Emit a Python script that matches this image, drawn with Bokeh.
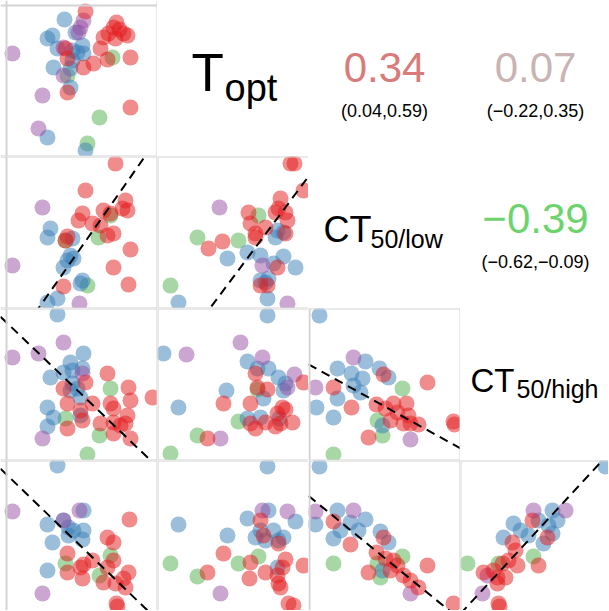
from bokeh.plotting import figure
from bokeh.layouts import gridplot
from bokeh.models import Range1d, Span
from bokeh.core.properties import value
from bokeh.embed import file_html
from bokeh.resources import INLINE

s00_red = [(79,6),(110,17),(107,22),(113,24),(102,28),(117,28),(121,30),(109,33),(97,32),(94,43),(59,43),(61,53),(77,62),(87,58),(101,54),(124,52),(61,87),(124,102)]
s00_blue = [(58,14),(41,33),(46,30),(51,43),(76,40),(77,48),(71,47),(66,45),(66,55),(47,62),(64,63),(64,82),(41,132),(79,145),(69,27)]
s00_purple = [(77,15),(74,22),(72,27),(57,42),(57,70),(6,48),(36,90),(32,123)]
s00_green = [(106,52),(61,70),(93,112),(81,138)]

s10_red = [(109,7),(79,34),(76,57),(72,64),(86,67),(97,54),(104,57),(119,44),(116,52),(121,54),(94,69),(101,79),(107,77),(61,80),(59,84),(124,93),(107,111),(57,130),(122,128)]
s10_blue = [(44,72),(41,81),(66,82),(64,99),(67,102),(61,104),(57,111),(76,124),(74,127),(41,146),(51,142)]
s10_purple = [(36,51),(6,109),(73,147)]
s10_green = [(104,59),(92,81),(59,84),(81,129)]

s11_red = [(133,7),(137,7),(146,34),(123,42),(121,52),(118,56),(128,56),(130,64),(91,56),(93,67),(98,77),(108,71),(98,81),(128,77),(51,92),(65,85),(120,111),(103,129),(110,129)]
s11_blue = [(120,74),(126,76),(118,81),(70,102),(90,96),(103,99),(126,100),(138,111),(116,107),(103,124),(111,122),(108,126),(21,146),(110,142)]
s11_purple = [(62,51),(105,109),(130,147)]
s11_green = [(101,59),(40,81),(81,84),(13,129)]

s20_red = [(79,74),(57,80),(101,65),(122,79),(124,92),(146,89),(86,95),(61,95),(74,102),(104,95),(107,100),(121,107),(94,115),(107,114),(114,117),(119,115),(61,120),(76,112),(107,125),(124,130)]
s20_blue = [(51,6),(77,45),(64,54),(76,60),(44,69),(57,64),(66,62),(66,75),(71,80),(64,82),(74,89),(41,99),(47,109),(41,118),(74,107)]
s20_purple = [(57,34),(6,49),(32,45),(76,65),(36,130)]
s20_green = [(104,80),(59,110),(93,127),(81,146)]

s21_red = [(98,65),(146,74),(100,79),(110,81),(66,95),(93,95),(125,99),(128,101),(120,105),(135,114),(123,115),(118,118),(93,115),(98,120),(108,114),(50,130)]
s21_blue = [(110,7),(6,45),(90,53),(111,60),(100,60),(121,69),(128,75),(106,90),(69,82),(21,99),(126,82),(90,110),(103,109),(122,110)]
s21_purple = [(83,34),(29,46),(105,49),(137,66),(130,79),(63,130)]
s21_green = [(100,81),(81,113),(40,127),(13,145)]

s22_red = [(74,66),(24,79),(118,74),(42,99),(67,96),(84,95),(97,95),(76,100),(88,104),(99,107),(81,112),(94,115),(101,115),(109,116),(59,129),(144,113),(145,116)]
s22_blue = [(10,7),(56,53),(28,60),(42,65),(70,60),(79,69),(53,70),(44,77),(51,84),(28,90),(7,99),(24,109),(73,117)]
s22_purple = [(44,49),(6,79),(101,131)]
s22_green = [(93,80),(68,112),(73,127),(24,146)]

s30_red = [(123,59),(101,77),(107,82),(61,93),(86,100),(74,107),(77,104),(61,112),(107,100),(101,107),(97,122),(76,118),(122,112),(117,118),(119,127),(109,123),(110,143),(111,146)]
s30_blue = [(51,5),(77,50),(41,64),(57,60),(62,67),(67,70),(77,70),(62,75),(76,79),(46,82),(41,110)]
s30_purple = [(6,51),(73,50),(57,60),(36,133)]
s30_green = [(59,103),(104,95),(93,115)]

s31_red = [(103,60),(106,75),(121,83),(66,93),(93,102),(108,112),(128,99),(125,107),(146,105),(120,115),(121,123),(123,127),(92,118),(50,112),(131,143),(136,145)]
s31_blue = [(110,6),(111,50),(138,61),(90,58),(103,70),(98,77),(108,80),(116,70),(121,80),(126,77),(21,64),(70,75),(120,107)]
s31_purple = [(105,50),(130,51),(63,133)]
s31_green = [(101,96),(81,103),(13,103),(40,116)]

s32_red = [(24,61),(74,77),(41,84),(118,105),(67,92),(76,98),(84,100),(88,105),(59,112),(81,110),(94,115),(101,120),(109,127),(144,143)]
s32_blue = [(10,6),(6,64),(28,50),(56,59),(41,62),(49,70),(31,70),(24,78),(71,71),(79,82),(73,110)]
s32_purple = [(6,51),(44,50),(101,133)]
s32_green = [(93,96),(24,103),(68,103),(71,117)]

s33_red = [(72,60),(87,77),(52,82),(55,90),(78,105),(48,100),(57,105),(42,103),(23,112),(33,110),(37,117),(45,117),(37,123),(38,143),(39,146)]
s33_blue = [(145,6),(92,50),(53,63),(78,60),(97,60),(88,65),(43,77),(60,70),(68,75),(92,73),(83,83)]
s33_purple = [(73,50),(105,50),(22,133),(27,115)]
s33_green = [(73,96),(7,103),(38,103)]

# dashed fit lines: panel, intercept, slope (panel units, y measured downward)
fit_panels = [(1,0),(1,1),(2,0),(2,2),(3,0),(3,2),(3,3)]
fit_intercept = [197.5, 221.9, 14.0, 56.4, 14.0, 36.2, 153.2]
fit_slope = [-1.427, -1.337, 0.957, 0.553, 0.964, 0.815, -1.080]

# correlation panels
cor_panels = [(0,2),(0,3),(1,3)]
cor_value = [0.34, 0.07, -0.39]
cor_low = [0.04, -0.22, -0.62]
cor_high = [0.59, 0.35, -0.09]
cor_color = ["#D87B7B", "#C9B3B3", "#6DD46D"]

# variable labels on the diagonal
label_panels = [(0,1),(1,2),(2,3)]
label_main = ["T", "CT", "CT"]
label_sub = ["opt", "50/low", "50/high"]

group_colors = {"green": "#4DAF4A", "blue": "#377EB8", "purple": "#984EA3", "red": "#E41A1C"}

scatter_data = {}
for r in range(4):
    for c in range(4):
        key = f"s{r}{c}"
        if key + "_red" in globals():
            scatter_data[(r, c)] = {g: globals()[f"{key}_{g}"] for g in ["green", "blue", "purple", "red"]}

# layout: figure sizes in px, and where panel unit 0 sits inside each figure
COL_W = [157, 151, 152, 148]
ROW_H = [156, 152, 152, 150]
COL_X0 = [-6, 0, -1, 0]
ROW_Y0 = [-5, 0, 0, 0]
PANEL_W = [151, 152, 151]
PANEL_H = [151, 152, 152]
FONT = value("Liberation Sans")
BORDER = "#D3D3D3"
BASELINE_SHIFT = 0.35  # em; the svg text is anchored at its middle


def fmt(v):
    return f"{v:.2f}".replace("-", "\u2212")


def base_fig(r, c):
    W, H = COL_W[c], ROW_H[r]
    x0, y0 = COL_X0[c], ROW_Y0[r]
    p = figure(width=W, height=H, x_range=Range1d(x0, x0 + W), y_range=Range1d(y0 + H, y0),
               x_axis_type=None, y_axis_type=None, toolbar_location=None,
               output_backend="svg", min_border=0, outline_line_color=None,
               background_fill_color="white", border_fill_color="white")
    return p


def add_text(p, x, baseline, txt, size, color="black", align="left"):
    y = baseline - BASELINE_SHIFT * size
    p.text([x], [y], text=[txt], text_font=FONT, text_font_size=f"{size}px", text_color=color,
           text_align=align, text_baseline="alphabetic")


rows = []
for r in range(4):
    row = []
    for c in range(4):
        p = base_fig(r, c)
        if (r, c) in scatter_data:
            for g, pts in scatter_data[(r, c)].items():
                xs = [pt[0] for pt in pts]
                ys = [pt[1] for pt in pts]
                p.scatter(xs, ys, size=16, fill_color=group_colors[g], fill_alpha=0.5, line_color=None)
            if (r, c) in fit_panels:
                i = fit_panels.index((r, c))
                a, b = fit_intercept[i], fit_slope[i]
                x_start = COL_X0[c]
                x_end = COL_X0[c] + COL_W[c]
                p.line([x_start, x_end], [a + b * x_start, a + b * x_end], line_color="black",
                       line_width=2, line_dash="9 6")
            p.add_layout(Span(location=0, dimension="height", line_color=BORDER, line_width=2))
            p.add_layout(Span(location=0, dimension="width", line_color=BORDER, line_width=2))
            if c < 3:
                p.add_layout(Span(location=PANEL_W[c], dimension="height", line_color=BORDER, line_width=2))
            if r < 3:
                p.add_layout(Span(location=PANEL_H[r], dimension="width", line_color=BORDER, line_width=2))
        elif (r, c) in cor_panels:
            i = cor_panels.index((r, c))
            add_text(p, 75, 77, fmt(cor_value[i]), 42, cor_color[i], "center")
            add_text(p, 75, 112, f"({fmt(cor_low[i])},{fmt(cor_high[i])})", 18, "black", "center")
        elif (r, c) in label_panels:
            i = label_panels.index((r, c))
            if i == 0:
                add_text(p, 34, 86, label_main[i], 53)
                add_text(p, 67, 96, label_sub[i], 38)
            elif i == 1:
                add_text(p, 14, 86, label_main[i], 36)
                add_text(p, 61, 91, label_sub[i], 25)
            else:
                add_text(p, 10, 84, label_main[i], 33)
                add_text(p, 56, 89, label_sub[i], 25)
        row.append(p)
    rows.append(row)

grid = gridplot(rows, toolbar_location=None)
open("out.html", "w").write(file_html(grid, INLINE))
